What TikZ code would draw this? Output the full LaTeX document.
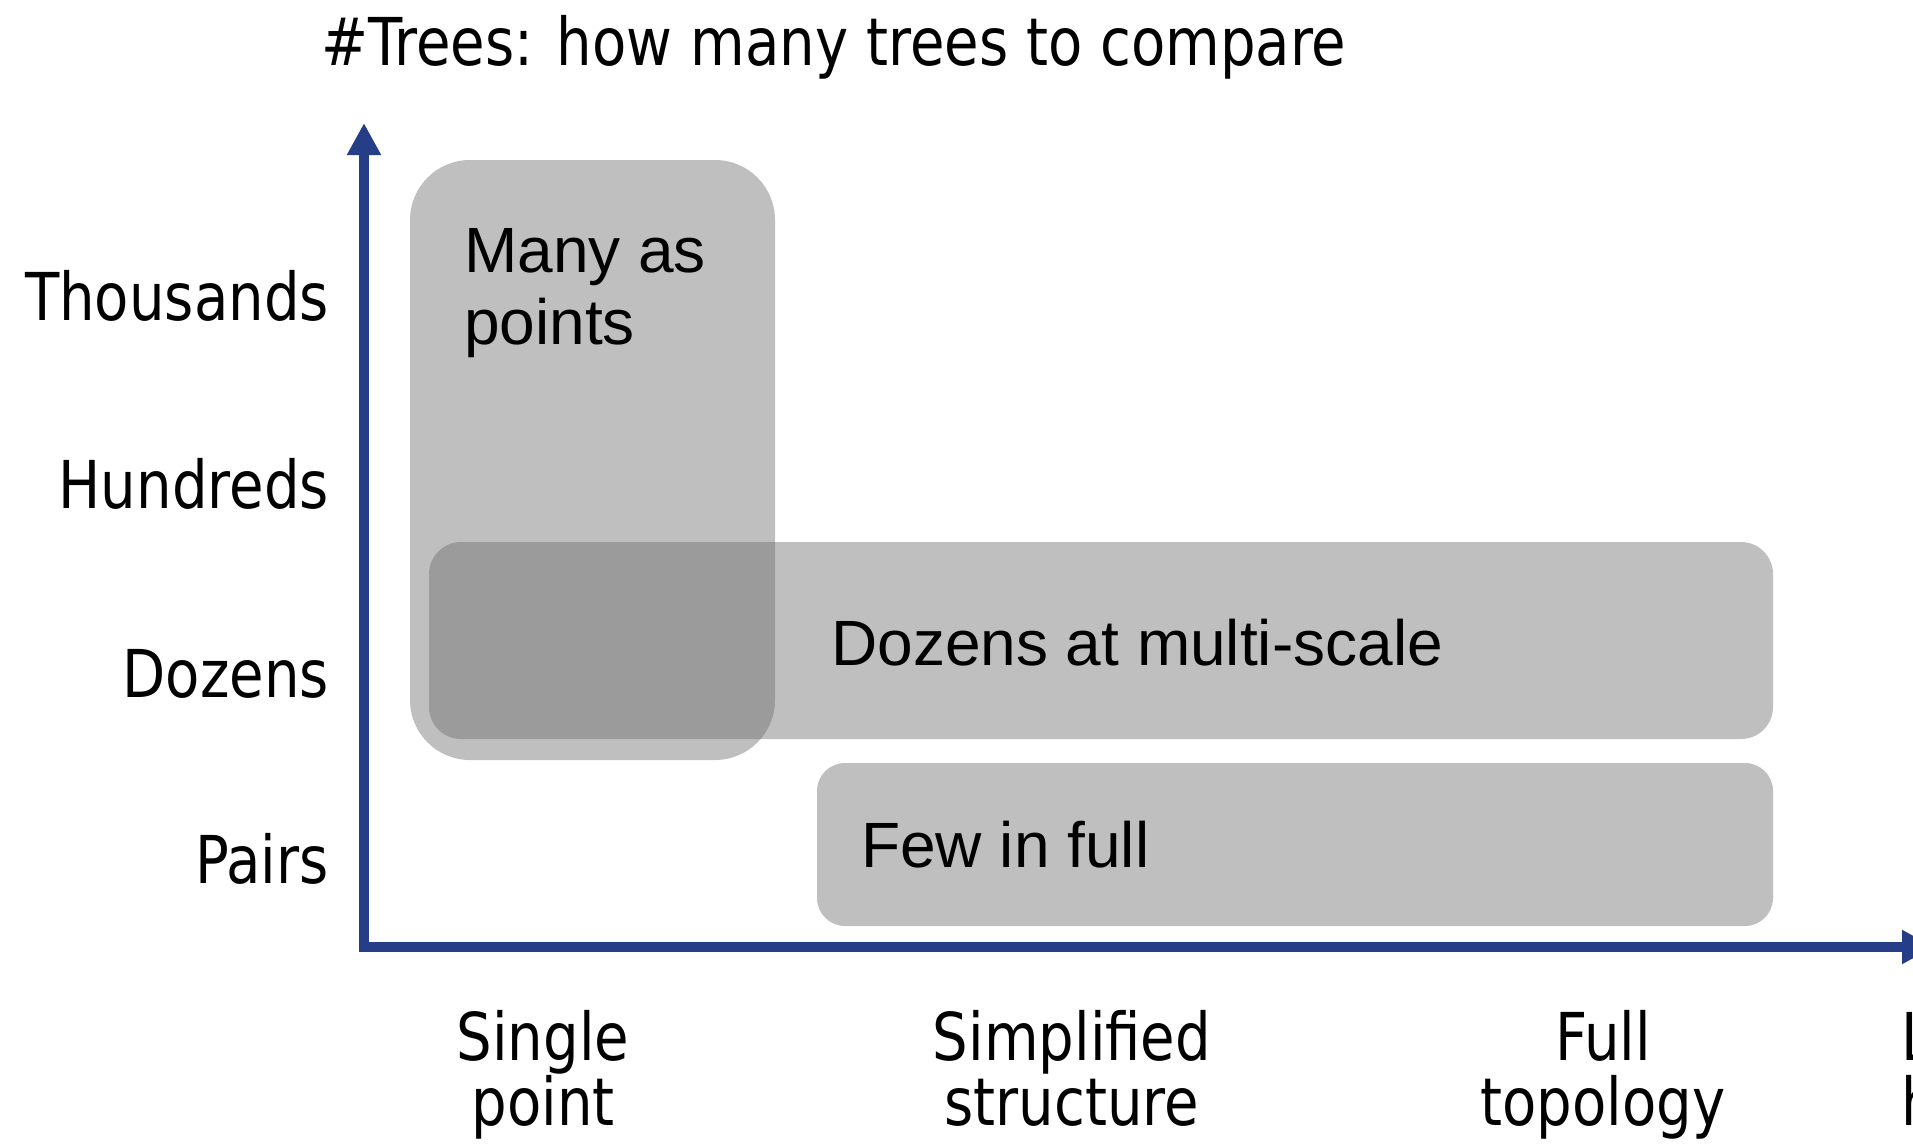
\documentclass[tikz,border=0pt]{standalone}
\usepackage{fontspec}
\setmainfont{Liberation Sans}
\newfontfamily\labfont[FakeStretch=0.85]{DejaVu Sans}
\usetikzlibrary{arrows.meta}
\definecolor{axisblue}{RGB}{38,62,135}
\definecolor{boxgray}{RGB}{109,109,109}
\tikzset{
  axisline/.style={draw=axisblue, line width=10pt, line join=miter,
    {Triangle[width=32pt,length=32pt]}-{Triangle[width=32pt,length=32pt]}},
  regionbox/.style={fill=boxgray, fill opacity=0.4375, draw=none},
  lab/.style={inner sep=0pt, font=\labfont\fontsize{66}{76}\selectfont, text=black},
  boxtext/.style={inner sep=0pt, anchor=base west, font=\fontsize{64}{72}\selectfont, text=black},
  ylab/.style={lab, anchor=base east},
  xlab/.style={lab, anchor=base}
}
\begin{document}
\begin{tikzpicture}[x=1pt, y=-1pt]
\useasboundingbox (0,0) rectangle (1913,1145);
% title
\node[lab, anchor=base west] (title) at (321,66) {\#Trees: how many trees to compare};
% boxes
\path[regionbox, rounded corners=60pt] (410,160) rectangle (775,760);
\coordinate (tallNW) at (410,160);
\path[regionbox, rounded corners=32pt] (429,542) rectangle (1773,739);
\path[regionbox, rounded corners=28pt] (817,763) rectangle (1773,926);
% box texts
\node[boxtext] (many1) at (464,272) {Many as};
\node[boxtext] (many2) at (464,344) {points};
\node[boxtext] (dozens) at (831,665) {Dozens at multi-scale};
\node[boxtext] (few) at (861,867) {Few in full};
% axes
\coordinate (ytip) at (364,123);
\coordinate (origin) at (364,947);
\coordinate (xtip) at (1934,947);
\draw[axisline] (ytip) -- (origin) -- (xtip);
% y labels
\node[ylab] (ythousands) at (329,320) {Thousands};
\node[ylab] (yhundreds) at (329,508) {Hundreds};
\node[ylab] (ydozens) at (329,697) {Dozens};
\node[ylab] (ypairs) at (329,883) {Pairs};
% x labels
\node[xlab] (xsingleA) at (543,1060) {Single};
\node[xlab] (xsingleB) at (543,1125) {point};
\node[xlab] (xsimpA) at (1072,1060) {Simplified};
\node[xlab] (xsimpB) at (1072,1125) {structure};
\node[xlab] (xfullA) at (1603,1060) {Full};
\node[xlab] (xfullB) at (1603,1125) {topology};
\node[lab, anchor=base west] (xlastA) at (1901,1060) {L};
\node[lab, anchor=base west] (xlastB) at (1901,1125) {h};
\end{tikzpicture}
\end{document}
